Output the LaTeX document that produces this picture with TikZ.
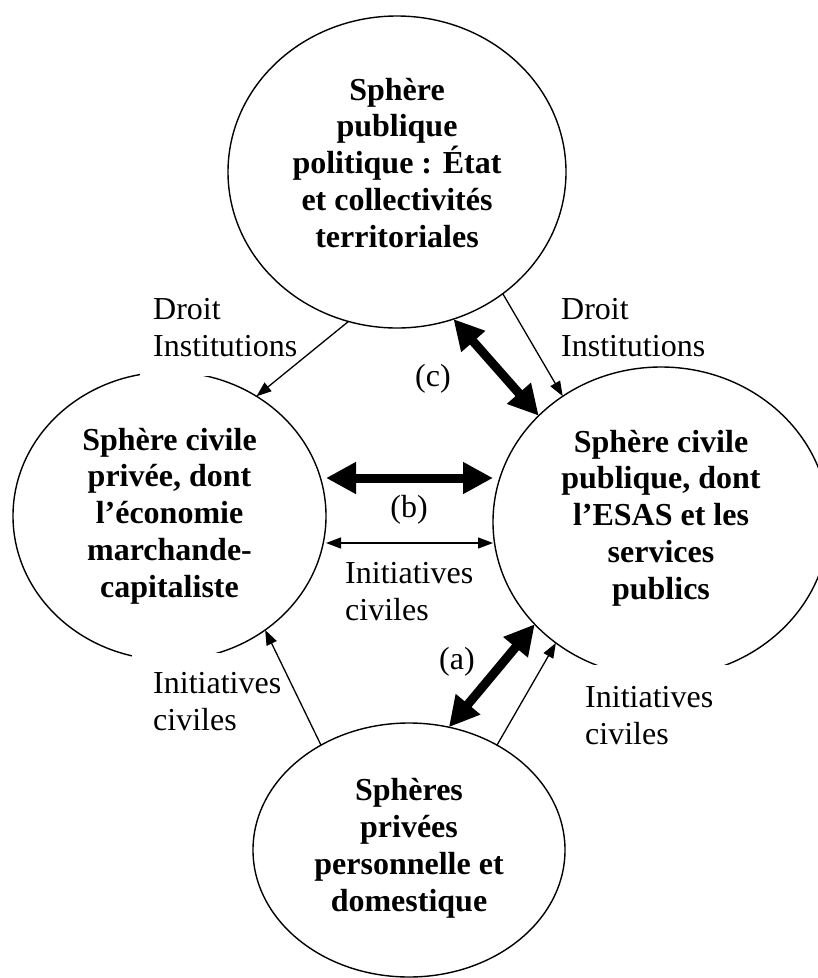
\documentclass[tikz,border=0pt]{standalone}
\usepackage{fontspec}
\setmainfont{Liberation Serif}
\usetikzlibrary{shapes.geometric,arrows.meta}
\newcommand\pushdn[1]{\rule[-#1]{0pt}{#1}}
\begin{document}
\begin{tikzpicture}[x=1pt,y=-1pt,
  sphere/.style={draw, ellipse, line width=1.4pt, inner sep=0pt, outer sep=0pt,
    align=center, font=\fontsize{32}{36.8}\selectfont\bfseries},
  lbl/.style={inner sep=0pt, align=left, font=\fontsize{32}{36.8}\selectfont},
  arr/.style={line width=1.3pt, -{Triangle[length=15pt,width=11pt]}},
  arrboth/.style={line width=1.3pt, {Triangle[length=15pt,width=11pt]}-{Triangle[length=15pt,width=11pt]}},
  fat/.style={line width=9pt, {Triangle[length=30pt,width=30pt]}-{Triangle[length=30pt,width=30pt]}},
  mask/.style={fill=white}]
\useasboundingbox (0,0) rectangle (818,978);

% spheres
\node[sphere, minimum width=338pt, minimum height=312pt] (T) at (397,172)
  {Sphère\\publique\\politique : État\\et collectivités\\territoriales\pushdn{19pt}};
\node[sphere, minimum width=313pt, minimum height=288pt] (L) at (169.5,516)
  {Sphère civile\\privée, dont\\l’économie\\marchande-\\capitaliste};
\node[sphere, minimum width=336pt, minimum height=310pt] (R) at (661,522)
  {Sphère civile\\publique, dont\\l’ESAS et les\\services\\publics\pushdn{15pt}};
\node[sphere, minimum width=312pt, minimum height=254pt] (B) at (409,850)
  {Sphères\\privées\\personnelle et\\domestique\pushdn{10pt}};

% white text-box masks cutting the circles
\fill[mask] (140,345) rectangle (215,376);
\fill[mask] (132,653) rectangle (240,668);
\fill[mask] (585,665) rectangle (745,682);

% connectors
\draw[arr] (T.-108.3) -- (L.54.2);
\draw[arr] (T.-49.5) -- (R.128.1);
\draw[fat] (T.-69.4) -- (R.139.6);
\draw[fat] ([yshift=38pt]L.east) -- ([yshift=44pt]R.west);
\draw[arrboth] ([yshift=-27pt]L.east) -- ([yshift=-21pt]R.west);
\draw[fat] (R.-141.1) -- (B.72.8);
\draw[arr] (B.50) -- (R.-131.1);
\draw[arr] (B.130.9) -- (L.-50.4);

% labels
\node[lbl, anchor=north west] (dl) at (153,298) {Droit\\Institutions};
\node[lbl, anchor=north west] (dr) at (561,298) {Droit\\Institutions};
\node[lbl] (c) at (433,379) {(c)};
\node[lbl] (b) at (409,510) {(b)};
\node[lbl] (a) at (457,662) {(a)};
\node[lbl, anchor=north west] (im) at (345,562) {Initiatives\\civiles};
\node[lbl, anchor=north west] (ibl) at (153,672) {Initiatives\\civiles};
\node[lbl, anchor=north west] (ibr) at (585,686) {Initiatives\\civiles};
\end{tikzpicture}
\end{document}
